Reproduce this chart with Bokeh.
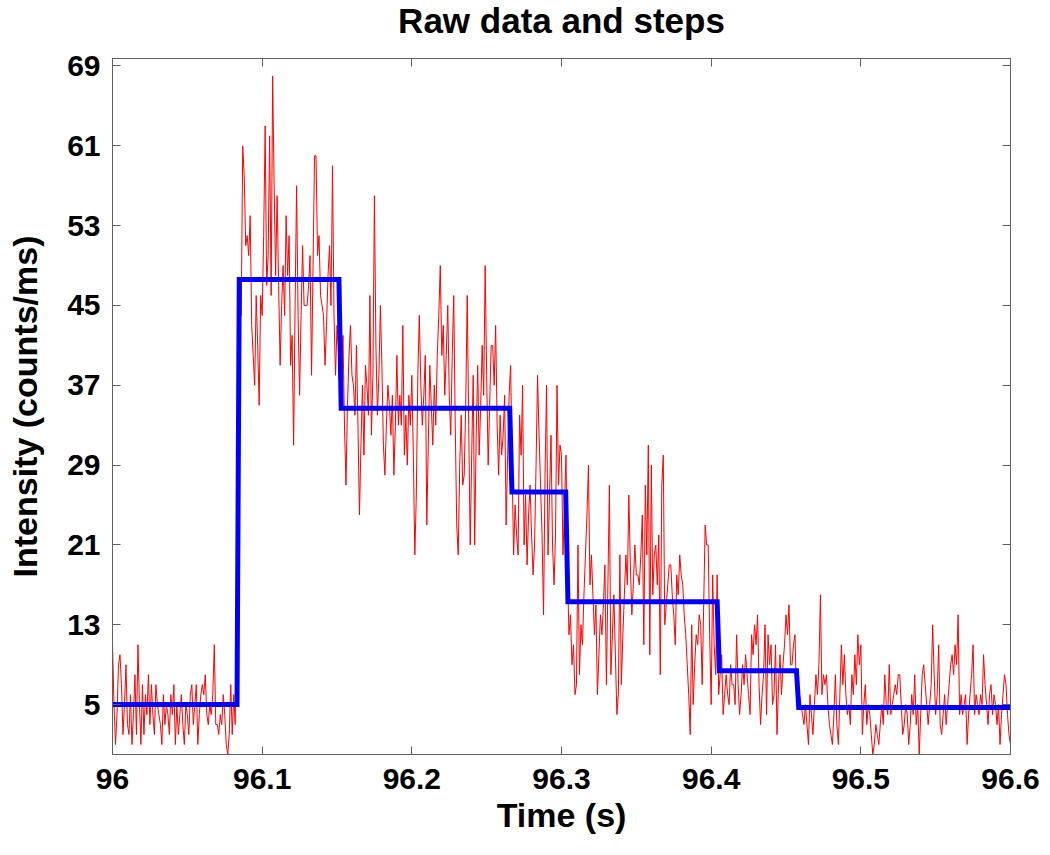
import numpy as np
from bokeh.plotting import figure
from bokeh.models import LinearAxis, FixedTicker, CustomJSTickFormatter, Range1d, Label
from bokeh.embed import file_html
from bokeh.resources import INLINE

# ---------------- data (counts per 1 ms bin) ----------------
raw_seg0 = [11, 5, 1, 4, 9, 10, 7, 2, 5, 9,
            3, 2, 6, 1, 4, 8, 2, 11, 5, 1,
            7, 2, 6, 4, 8, 3, 7, 4, 2, 7,
            5, 4, 3, 1, 6, 3, 5, 4, 2, 6,
            4, 7, 1, 5, 2, 4, 6, 3, 1, 5,
            4, 2, 6, 7, 3, 5, 7, 1, 4, 6,
            7, 6, 8, 4, 3, 5, 4, 6, 11, 3,
            3, 2, 4, 3, 6, 4, 1, 0, 2, 7,
            2, 6, 3]
raw_seg1 = [22, 47, 45, 44,
            61, 58, 51, 52, 50, 54, 43, 40, 37, 46,
            41, 35, 46, 44, 52, 63, 47, 50, 62, 46,
            68, 57, 48, 56, 47, 39, 45, 49, 44, 54,
            48, 52, 39, 42, 31, 45, 57, 44, 36, 44,
            51, 45, 45, 45, 47, 50, 38, 49, 60, 60,
            50, 52, 46, 45, 44, 39, 43, 48, 51, 45,
            59, 44, 38, 43, 41]
raw_seg2 = [35, 38, 42, 33, 27, 35, 40, 43, 38, 37,
            34, 41, 33, 24, 31, 37, 30, 39, 37, 34,
            46, 32, 38, 56, 41, 34, 38, 45, 39, 31,
            28, 33, 37, 35, 32, 36, 28, 33, 40, 33,
            36, 33, 43, 30, 34, 29, 36, 33, 38, 30,
            20, 26, 38, 44, 37, 33, 36, 40, 23, 31,
            39, 35, 31, 37, 33, 40, 44, 49, 40, 43,
            36, 40, 45, 36, 32, 40, 46, 33, 23, 20,
            29, 34, 27, 28, 35, 46, 33, 21, 30, 38,
            21, 32, 39, 30, 35, 41, 36, 49, 38, 29,
            35, 41, 41, 37, 43, 33, 28, 34, 30, 32,
            36, 23, 30, 36]
raw_seg3 = [39, 29, 20, 25, 22, 20, 34, 30, 37, 21,
            26, 19, 24, 27, 22, 18, 21, 29, 38, 32,
            27, 22, 14, 28, 37, 20, 26, 32, 21, 17,
            22, 37, 27, 31, 30, 20, 25, 30]
raw_seg4 = [18, 12, 14, 9, 11, 6, 7, 21, 8, 13,
            11, 16, 20, 24, 29, 17, 20, 16, 12, 15,
            6, 10, 14, 12, 15, 19, 7, 17, 27, 8,
            12, 16, 10, 4, 6, 20, 7, 12, 16, 20,
            17, 26, 19, 14, 17, 21, 18, 18, 17, 20,
            24, 11, 27, 20, 31, 10, 29, 16, 20, 21,
            17, 22, 8, 27, 30, 13, 15, 17, 19, 19,
            16, 14, 11, 18, 16, 20, 18, 17, 14, 12,
            9, 6, 2, 13, 5, 9, 12, 11, 14, 13,
            7, 15, 23, 21, 21, 12, 5, 18, 11, 8,
            18]
raw_seg5 = [6, 8, 10, 4, 6, 8, 6, 5, 9, 7,
            7, 5, 12, 7, 4, 6, 9, 7, 10, 8,
            6, 4, 12, 10, 13, 11, 14, 7, 3, 6,
            8, 13, 4, 12, 9, 11, 5, 6, 11, 2,
            7, 10, 6, 9, 11, 14, 12, 15, 9, 9,
            11, 12, 6]
raw_seg6 = [5, 6, 5, 4, 3, 5, 3, 1, 6, 4,
            2, 5, 8, 6, 9, 16, 6, 8, 7, 8,
            5, 3, 2, 1, 4, 8, 3, 1, 6, 11,
            7, 10, 6, 4, 5, 3, 8, 6, 10, 7,
            12, 9, 11, 2, 5, 7, 3, 5, 4, 2,
            0, 1, 3, 2, 1, 3, 5, 3, 8, 5,
            4, 9, 4, 5, 6, 7, 6, 8, 8, 5,
            2, 3, 5, 4, 1, 3, 6, 4, 8, 3,
            5, 0, 4, 8, 9, 7, 5, 3, 5, 7,
            13, 8, 4, 6, 11, 3, 2, 4, 6, 3,
            5, 7, 9, 10, 8, 11, 9, 14, 4, 6,
            4, 5, 6, 1, 4, 6, 8, 11, 4, 6,
            5, 4, 6, 5, 10, 7, 5, 3, 6, 7,
            4, 6, 5, 3, 5, 1, 4, 6, 8, 7,
            4, 2, 1]
raw_counts = raw_seg0 + raw_seg1 + raw_seg2 + raw_seg3 + raw_seg4 + raw_seg5 + raw_seg6

sample_start_s = 96.0
sample_bin_s = 0.001

step_change_times = [96.0832, 96.1513, 96.2654, 96.3028, 96.4040, 96.4570]
step_levels = [5.0, 47.6, 34.7, 26.3, 15.3, 8.4, 4.7]
step_rise_s = 0.0015

x_ticks = [96.0, 96.1, 96.2, 96.3, 96.4, 96.5, 96.6]
y_ticks = [5, 13, 21, 29, 37, 45, 53, 61, 69]
x_limits = (96.0, 96.6)
y_limits = (0.0, 69.75)

title_text = "Raw data and steps"
x_label = "Time (s)"
y_label = "Intensity (counts/ms)"

# ---------------- derived series ----------------
t_raw = sample_start_s + sample_bin_s * np.arange(len(raw_counts))

step_x = [x_limits[0]]
step_y = [step_levels[0]]
for k, tc in enumerate(step_change_times):
    step_x += [tc, tc + step_rise_s]
    step_y += [step_levels[k], step_levels[k + 1]]
step_x.append(x_limits[1])
step_y.append(step_levels[-1])

# ---------------- figure ----------------
FONT = "Liberation Sans"
AX_COL = "#5f5f5f"

p = figure(frame_width=898, frame_height=696, output_backend="svg", toolbar_location=None,
           x_range=Range1d(*x_limits), y_range=Range1d(*y_limits),
           min_border_left=112, min_border_right=40, min_border_top=58, min_border_bottom=101)
p.background_fill_color = "white"
p.border_fill_color = "white"
p.outline_line_color = AX_COL
p.grid.visible = False
p.title.visible = False

p.line(t_raw, raw_counts, line_color="#ff0000", line_width=1)
p.line(step_x, step_y, line_color="#0000ff", line_width=5, line_join="miter")

def style_axis(ax, ticks, show_labels):
    ax.ticker = FixedTicker(ticks=ticks)
    ax.axis_line_color = AX_COL
    ax.major_tick_line_color = AX_COL
    ax.major_tick_in = 8
    ax.major_tick_out = 0
    ax.minor_tick_line_color = None
    if show_labels:
        ax.major_label_text_font = FONT
        ax.major_label_text_font_size = "30px"
        ax.major_label_text_font_style = "bold"
        ax.major_label_text_color = "black"
        ax.axis_label_text_font = FONT
        ax.axis_label_text_font_size = "34px"
        ax.axis_label_text_font_style = "bold"
        ax.axis_label_text_color = "black"
    else:
        ax.formatter = CustomJSTickFormatter(code="return '';")
        ax.major_label_text_font_size = "1px"
        ax.major_label_standoff = 0

xa = p.xaxis[0]
style_axis(xa, x_ticks, True)
xa.formatter = CustomJSTickFormatter(code="return Number(tick.toFixed(1)).toString();")
xa.axis_label = x_label
xa.major_label_standoff = 14
xa.axis_label_standoff = 4

ya = p.yaxis[0]
style_axis(ya, y_ticks, True)
ya.axis_label = y_label
ya.major_label_standoff = 12
ya.axis_label_standoff = 20

top_ax = LinearAxis()
style_axis(top_ax, x_ticks, False)
p.add_layout(top_ax, "above")
right_ax = LinearAxis()
style_axis(right_ax, y_ticks, False)
p.add_layout(right_ax, "right")

# title, centred over the frame (placed in the top side panel so it is not clipped)
p.add_layout(Label(x=(x_limits[0] + x_limits[1]) / 2, y=y_limits[1], y_offset=38,
                   text=title_text, text_align="center", text_baseline="alphabetic",
                   text_font=FONT, text_font_size="35px", text_font_style="bold",
                   text_color="black"), "above")

open("out.html", "w").write(file_html(p, INLINE))
